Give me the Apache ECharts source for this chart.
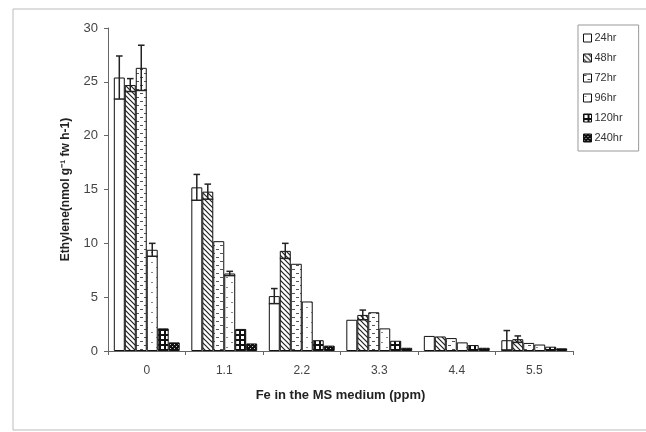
<!DOCTYPE html>
<html>
<head>
<meta charset="utf-8">
<script src="https://cdn.jsdelivr.net/npm/echarts@6/dist/echarts.min.js"></script>
<style>
  html, body { margin: 0; padding: 0; background: #fff; }
  #chart { width: 646px; height: 432px; }
</style>
</head>
<body>
<div id="chart"></div>
<script>
// 数据
const categories = ['0', '1.1', '2.2', '3.3', '4.4', '5.5']
const seriesNames = ['24hr', '48hr', '72hr', '96hr', '120hr', '240hr']
const h24 = [25.4, 15.2, 5.1, 2.9, 1.4, 1.0]
const h48 = [24.7, 14.8, 9.3, 3.35, 1.35, 1.1]
const h72 = [26.3, 10.2, 8.1, 3.6, 1.2, 0.75]
const h96 = [9.4, 7.2, 4.6, 2.1, 0.8, 0.6]
const h120 = [2.1, 2.05, 1.0, 0.95, 0.55, 0.4]
const h240 = [0.8, 0.7, 0.5, 0.3, 0.3, 0.25]
// 误差
const e24 = [2.0, 1.2, 0.7, 0, 0, 0.9]
const e48 = [0.6, 0.7, 0.7, 0.45, 0, 0.3]
const e72 = [2.1, 0, 0, 0, 0, 0]
const e96 = [0.6, 0.2, 0, 0, 0, 0]
const e120 = [0, 0, 0, 0, 0, 0]
const e240 = [0, 0, 0, 0, 0, 0]
const yTicks = [0, 5, 10, 15, 20, 25, 30]

const values = [h24, h48, h72, h96, h120, h240]
const errors = [e24, e48, e72, e96, e120, e240]

const GAP = 0.15
const FONT = '"Liberation Sans", Arial, sans-serif'

// 填充图案
function makePattern(draw, size) {
  const c = document.createElement('canvas')
  c.width = size
  c.height = size
  const ctx = c.getContext('2d')
  draw(ctx, size)
  return { image: c, repeat: 'repeat' }
}

const patterns = [
  '#ffffff',
  makePattern((ctx, s) => {
    ctx.fillStyle = '#fff'; ctx.fillRect(0, 0, s, s)
    ctx.strokeStyle = '#222'; ctx.lineWidth = 1.2
    ctx.beginPath()
    ctx.moveTo(-1, -1); ctx.lineTo(s + 1, s + 1)
    ctx.moveTo(-1, s - 1); ctx.lineTo(1, s + 1)
    ctx.moveTo(s - 1, -1); ctx.lineTo(s + 1, 1)
    ctx.stroke()
  }, 5),
  makePattern((ctx, s) => {
    ctx.fillStyle = '#fff'; ctx.fillRect(0, 0, s, s)
    ctx.fillStyle = '#555'
    ctx.fillRect(0, 1, 3, 1)
    ctx.fillRect(4, 5, 3, 1)
  }, 8),
  makePattern((ctx, s) => {
    ctx.fillStyle = '#fff'; ctx.fillRect(0, 0, s, s)
    ctx.fillStyle = '#888'
    ctx.fillRect(1, 2, 2, 1)
    ctx.fillRect(6, 7, 2, 1)
  }, 10),
  makePattern((ctx, s) => {
    ctx.fillStyle = '#111'; ctx.fillRect(0, 0, s, s)
    ctx.fillStyle = '#fff'
    ctx.fillRect(1, 1, 3, 3)
  }, 5),
  makePattern((ctx, s) => {
    ctx.fillStyle = '#111'; ctx.fillRect(0, 0, s, s)
    ctx.fillStyle = '#ccc'
    ctx.fillRect(2, 0, 1, 1)
    ctx.fillRect(0, 2, 1, 1)
  }, 4)
]

// 误差线
function errRenderer(idx) {
  return function (params, api) {
    const cat = api.value(0)
    const v = api.value(1)
    const e = api.value(2)
    if (!e) return
    const band = api.size([1, 0])[0]
    const groupW = band * (1 - GAP)
    const bw = groupW / seriesNames.length
    const x = api.coord([cat, 0])[0] - groupW / 2 + (idx + 0.5) * bw
    const top = api.coord([cat, v + e])[1]
    const bot = api.coord([cat, v - e])[1]
    const cw = bw * 0.6
    const style = { stroke: '#222', lineWidth: 1.5 }
    return {
      type: 'group',
      children: [
        { type: 'line', shape: { x1: x, y1: top, x2: x, y2: bot }, style },
        { type: 'line', shape: { x1: x - cw / 2, y1: top, x2: x + cw / 2, y2: top }, style },
        { type: 'line', shape: { x1: x - bw / 2, y1: bot, x2: x + bw / 2, y2: bot }, style }
      ]
    }
  }
}

const barSeries = seriesNames.map((name, i) => ({
  name,
  type: 'bar',
  data: values[i],
  barCategoryGap: (GAP * 100) + '%',
  barGap: '0%',
  itemStyle: { color: patterns[i], borderColor: '#111', borderWidth: 1 },
  emphasis: { disabled: true },
  animation: false
}))

const errSeries = seriesNames.map((name, i) => ({
  name: name + '-err',
  type: 'custom',
  renderItem: errRenderer(i),
  data: values[i].map((v, j) => [j, v, errors[i][j]]),
  encode: { x: 0, y: 1 },
  z: 5,
  silent: true,
  animation: false
}))

const chart = echarts.init(document.getElementById('chart'))
chart.setOption({
  backgroundColor: '#fff',
  animation: false,
  graphic: [{
    type: 'rect',
    shape: { x: 13, y: 9, width: 640, height: 421 },
    style: { fill: 'none', stroke: '#bbb', lineWidth: 1 },
    silent: true
  }],
  grid: { left: 108, right: 73, top: 28, bottom: 81 },
  legend: {
    data: seriesNames,
    orient: 'vertical',
    left: 578,
    top: 25,
    width: 62,
    padding: [6, 16, 6, 5],
    icon: 'rect',
    itemWidth: 8,
    itemHeight: 8,
    itemGap: 6,
    borderColor: '#999',
    borderWidth: 1,
    textStyle: { fontFamily: FONT, fontSize: 11, color: '#333', lineHeight: 14, padding: [0, 0, 0, -2] },
    itemStyle: { borderColor: '#111', borderWidth: 1 }
  },
  xAxis: {
    type: 'category',
    data: categories,
    name: 'Fe in the MS medium (ppm)',
    nameLocation: 'middle',
    nameGap: 38,
    nameTextStyle: { fontFamily: FONT, fontSize: 13, fontWeight: 'bold', color: '#222' },
    axisLine: { lineStyle: { color: '#666' } },
    axisTick: { show: true, length: 4, lineStyle: { color: '#666' } },
    axisLabel: { margin: 14, fontFamily: FONT, fontSize: 12, color: '#444' }
  },
  yAxis: {
    type: 'value',
    min: yTicks[0],
    max: yTicks[yTicks.length - 1],
    interval: yTicks[1] - yTicks[0],
    name: 'Ethylene(nmol g\u207B\u00B9 fw h-1)',
    nameLocation: 'middle',
    nameRotate: 90,
    nameGap: 36,
    nameTextStyle: { fontFamily: FONT, fontSize: 12, fontWeight: 'bold', color: '#222' },
    axisLine: { show: true, lineStyle: { color: '#666' } },
    axisTick: { show: true, length: 4, lineStyle: { color: '#666' } },
    splitLine: { show: false },
    axisLabel: { margin: 10, fontFamily: FONT, fontSize: 13, color: '#444' }
  },
  series: [...barSeries, ...errSeries]
})
</script>
</body>
</html>
